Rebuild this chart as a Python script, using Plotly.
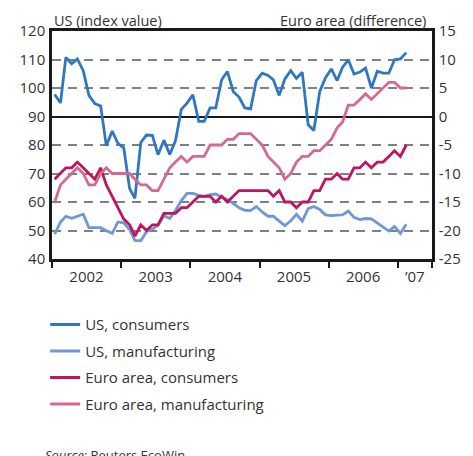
import plotly.graph_objects as go

# Monthly observations, Jan 2002 - Feb 2007 (plotted mid-month)
months = [f"{2002 + i // 12}-{i % 12 + 1:02d}-15" for i in range(62)]

us_consumers = [97.7, 94.8, 110.7, 108.5, 110.2, 106.1, 97.4, 94.5, 93.7, 79.7,
                84.9, 80.6, 79.0, 64.7, 61.3, 80.9, 83.5, 83.4, 76.6, 81.7,
                76.7, 81.5, 92.5, 94.7, 97.6, 88.3, 88.3, 93.0, 93.0, 102.9,
                105.8, 98.8, 96.8, 93.0, 92.7, 102.6, 105.2, 104.4, 102.9, 97.4,
                103.2, 106.1, 103.4, 105.5, 87.1, 85.1, 98.8, 103.5, 106.7, 102.6,
                107.2, 109.9, 104.9, 105.6, 107.0, 100.0, 105.9, 105.2, 105.2, 109.9,
                110.2, 112.4]

us_manufacturing = [48.7, 53.0, 55.0, 54.3, 55.0, 55.7, 51.0, 50.9, 51.0, 49.9,
                    49.0, 53.0, 52.7, 50.3, 46.5, 46.4, 49.6, 50.5, 51.8, 55.2,
                    54.2, 57.0, 60.5, 63.0, 63.0, 62.3, 62.0, 62.6, 62.8, 61.7,
                    60.9, 59.5, 58.0, 57.1, 57.0, 58.4, 56.5, 55.0, 55.0, 53.3,
                    51.7, 53.4, 55.7, 53.3, 57.7, 58.4, 57.4, 55.5, 55.2, 55.4,
                    55.5, 56.8, 54.6, 53.8, 54.2, 54.1, 52.6, 51.1, 49.8, 51.4,
                    49.0, 52.2]

euro_consumers = [-11, -10, -9, -9, -8, -9, -10, -11, -9, -12,
                  -14, -16, -18, -19, -21, -19, -20, -19, -19, -17,
                  -17, -17, -16, -16, -15, -14, -14, -14, -15, -14,
                  -15, -14, -13, -13, -13, -13, -13, -13, -14, -13,
                  -15, -15, -16, -15, -15, -13, -13, -11, -11, -10,
                  -11, -11, -9, -9, -8, -9, -8, -8, -7, -6,
                  -7, -5]

euro_manufacturing = [-15, -12, -11, -10, -9, -10, -12, -12, -10, -9,
                      -10, -10, -10, -10, -11, -12, -12, -13, -13, -11,
                      -9, -8, -7, -8, -7, -7, -7, -5, -5, -5,
                      -4, -4, -3, -3, -3, -4, -5, -7, -8, -9,
                      -11, -10, -8, -7, -7, -6, -6, -5, -4, -2,
                      -1, 2, 2, 3, 4, 3, 4, 5, 6, 6,
                      5, 5]

year_label_pos = ["2002-07-02", "2003-07-02", "2004-07-02", "2005-07-02", "2006-07-02", "2007-04-01"]
year_labels = ["2002", "2003", "2004", "2005", "2006", "\u201907"]
year_ticks = ["2002-01-01", "2003-01-01", "2004-01-01", "2005-01-01", "2006-01-01",
              "2007-01-01", "2007-07-01"]

left_ticks = [40, 50, 60, 70, 80, 90, 100, 110, 120]
right_ticks = [-25, -20, -15, -10, -5, 0, 5, 10, 15]
right_labels = ["-25", "-20", "-15", "-10", "-5", "0", "5", "10", "15"]

C_US_CONS = "#2e78c2"
C_US_MAN = "#6f97d5"
C_EU_CONS = "#bf1560"
C_EU_MAN = "#d46a8d"
TXT = "#333333"
FONT = "Open Sans"

fig = go.Figure()
fig.add_trace(go.Scatter(x=months, y=us_consumers, name="US, consumers",
                         mode="lines", line=dict(color=C_US_CONS, width=2.8),
                         yaxis="y", legendgroup="a"))
fig.add_trace(go.Scatter(x=months, y=us_manufacturing, name="US, manufacturing",
                         mode="lines", line=dict(color=C_US_MAN, width=2.8),
                         yaxis="y", legendgroup="b"))
fig.add_trace(go.Scatter(x=months, y=euro_consumers, name="Euro area, consumers",
                         mode="lines", line=dict(color=C_EU_CONS, width=2.8),
                         yaxis="y2", legendgroup="c"))
fig.add_trace(go.Scatter(x=months, y=euro_manufacturing, name="Euro area, manufacturing",
                         mode="lines", line=dict(color=C_EU_MAN, width=2.8),
                         yaxis="y2", legendgroup="d"))

# The page body has an 8px default margin, so the figure is sized to fit inside.
fig.update_layout(
    width=465, height=448,
    margin=dict(l=38, r=31, t=22, b=197),
    paper_bgcolor="white", plot_bgcolor="white",
    font=dict(family=FONT, size=15, color=TXT),
    showlegend=True,
    legend=dict(x=-0.018, y=-0.216, xanchor="left", yanchor="top",
                orientation="v", tracegroupgap=4, traceorder="grouped",
                font=dict(family=FONT, size=15, color=TXT),
                bgcolor="rgba(0,0,0,0)"),
    xaxis=dict(type="date", range=["2002-01-01", "2007-07-01"],
               tickmode="array", tickvals=year_label_pos, ticktext=year_labels,
               ticks="", showgrid=False, zeroline=False,
               showline=True, linecolor="#1a1a1a", linewidth=2.5, mirror=True,
               ticklabelstandoff=2,
               tickfont=dict(family=FONT, size=15, color=TXT),
               minor=dict(tickmode="array", tickvals=year_ticks, ticks="outside",
                          ticklen=6, tickwidth=2, tickcolor="#1a1a1a", showgrid=False)),
    yaxis=dict(range=[40, 120], tickmode="array", tickvals=left_ticks,
               ticks="", showgrid=False, zeroline=False,
               showline=True, linecolor="#1a1a1a", linewidth=2.5,
               ticklabelstandoff=1,
               tickfont=dict(family=FONT, size=15, color=TXT)),
    yaxis2=dict(range=[-25, 15], overlaying="y", side="right",
                tickmode="array", tickvals=right_ticks, ticktext=right_labels,
                ticks="", showgrid=True, gridcolor="#808080", gridwidth=1.8,
                griddash="9px,7px",
                zeroline=True, zerolinecolor="#1a1a1a", zerolinewidth=2.2,
                showline=True, linecolor="#1a1a1a", linewidth=2.5,
                ticklabelstandoff=1,
                tickfont=dict(family=FONT, size=15, color=TXT)),
)

fig.add_annotation(text="US (index value)", xref="paper", yref="paper",
                   x=0, y=1, xanchor="left", yanchor="bottom", yshift=-1, showarrow=False,
                   font=dict(family=FONT, size=14.5, color=TXT))
fig.add_annotation(text="Euro area (difference)", xref="paper", yref="paper",
                   x=0.99, y=1, xanchor="right", yanchor="bottom", yshift=-1, showarrow=False,
                   font=dict(family=FONT, size=14.5, color=TXT))
fig.add_annotation(text="<i>Source:</i> Reuters EcoWin.", xref="paper", yref="paper",
                   x=-0.025, y=-0.81, xanchor="left", yanchor="top", showarrow=False,
                   font=dict(family=FONT, size=13, color=TXT))

fig.write_html("out.html")
